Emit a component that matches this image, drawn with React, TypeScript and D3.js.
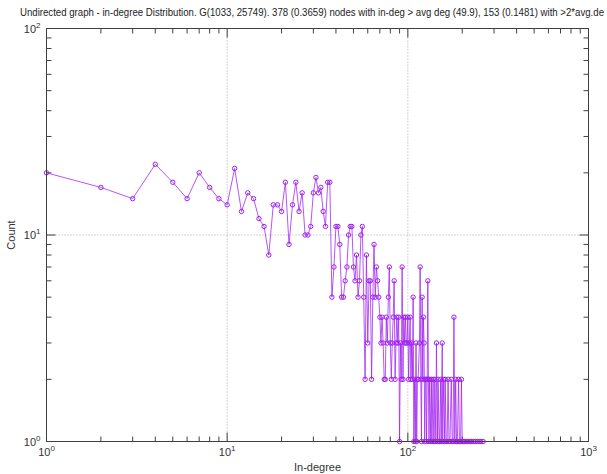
import React from "react";
import * as d3 from "d3";

const title =
  "Undirected graph - in-degree Distribution. G(1033, 25749). 378 (0.3659) nodes with in-deg > avg deg (49.9), 153 (0.1481) with >2*avg.de";
const xLabel = "In-degree";
const yLabel = "Count";

const xDecades = [0, 1, 2, 3];
const yDecades = [0, 1, 2];
const xGridDecades = [1, 2];
const yGridDecades = [1];

const inDegree = [
  1, 2, 3, 4, 5, 6, 7, 8, 9, 10, 11, 12, 13, 14, 15, 16, 17, 18, 19, 20,
  21, 22, 23, 24, 25, 26, 27, 28, 29, 30, 31, 32, 33, 34, 35, 36, 37,
  38, 39, 40, 41, 42, 43, 44, 45, 46, 47, 48, 49,
  50, 51, 52, 53, 54, 55, 56, 57, 58, 59,
  60, 61, 62, 63, 64, 65, 66, 67, 68, 69,
  70, 71, 72, 73, 74, 75, 76, 77, 78, 79,
  80, 81, 82, 83, 84, 85, 86, 87, 88, 89,
  90, 91, 92, 93, 94, 95, 96, 97, 98, 99,
  100, 101, 102, 103, 104, 105, 106, 107, 108, 109, 110, 111, 112, 113, 114,
  116, 117, 118, 119, 120, 121, 122, 123, 124, 125, 126, 127, 128, 129, 130, 131, 132, 134, 135,
  136, 138, 139, 140, 141, 143, 144, 146, 147, 149, 150, 152, 153, 155, 156, 158, 160, 161, 163,
  165, 167, 169, 171, 174, 176, 178, 180, 182, 184, 186, 188, 191, 193, 196, 198, 200,
  203, 206, 210, 214, 218, 222, 226, 231, 236, 242, 248, 254, 261,
];

const nodeCount = [
  20, 17, 15, 22, 18, 15, 20, 17, 15, 14, 21, 13, 16, 15, 12, 11, 8, 14, 14, 13,
  18, 9, 14, 18, 13, 16, 10, 10, 11, 16, 19, 16, 17, 13, 11, 18, 18,
  5, 7, 11, 11, 9, 5, 5, 6, 7, 10, 11, 11,
  7, 6, 8, 5, 6, 10, 11, 5, 2, 8,
  3, 6, 6, 2, 5, 9, 5, 7, 6, 5,
  4, 3, 4, 3, 2, 2, 4, 3, 5, 7,
  3, 2, 3, 4, 6, 2, 3, 4, 3, 4,
  1, 3, 2, 7, 2, 4, 3, 4, 3, 3,
  4, 2, 3, 4, 2, 3, 2, 5, 1, 2, 1, 3, 1, 2, 2,
  3, 7, 2, 1, 5, 2, 4, 3, 1, 2, 2, 1, 2, 6, 2, 1, 2, 1, 2,
  1, 2, 1, 1, 2, 1, 3, 1, 2, 1, 1, 2, 1, 3, 1, 2, 1, 2, 1,
  1, 2, 1, 1, 2, 1, 1, 4, 1, 2, 1, 1, 2, 1, 1, 2, 1,
  1, 1, 1, 1, 1, 1, 1, 1, 1, 1, 1, 1, 1,
];

const W = 607;
const H = 474;
const left = 46.5;
const right = 588.5;
const top = 28.5;
const bottom = 441.5;

const purple = "#a020f0";
const frameColor = "#404040";
const textColor = "#333333";
const font = "'Liberation Sans', Arial, sans-serif";

export default function App() {
  const x = d3.scaleLog().domain([1, 1000]).range([left, right]);
  const y = d3.scaleLog().domain([1, 100]).range([bottom, top]);

  const pts: [number, number][] = inDegree.map((d, i) => [d, nodeCount[i]]);
  const line = d3
    .line<[number, number]>()
    .x((d) => x(d[0]))
    .y((d) => y(d[1]));

  const xMinor: number[] = [];
  for (let e = 0; e < 3; e++) for (let m = 2; m <= 9; m++) xMinor.push(m * Math.pow(10, e));
  const yMinor: number[] = [];
  for (let e = 0; e < 2; e++) for (let m = 2; m <= 9; m++) yMinor.push(m * Math.pow(10, e));

  const majorLen = 9;
  const minorLen = 5;

  return (
    <svg
      width={W}
      height={H}
      style={{ position: "absolute", left: 0, top: 0, background: "#fff" }}
      fontFamily={font}
    >
      <rect x={0} y={0} width={W} height={H} fill="#fff" />
      {/* grid */}
      {xGridDecades.map((e) => (
        <line
          key={"gx" + e}
          x1={x(Math.pow(10, e))}
          x2={x(Math.pow(10, e))}
          y1={top}
          y2={bottom}
          stroke="#a8a8a8"
          strokeWidth={1}
          strokeDasharray="1,2"
        />
      ))}
      {yGridDecades.map((e) => (
        <line
          key={"gy" + e}
          x1={left}
          x2={right}
          y1={y(Math.pow(10, e))}
          y2={y(Math.pow(10, e))}
          stroke="#a8a8a8"
          strokeWidth={1}
          strokeDasharray="1,2"
        />
      ))}
      {/* ticks */}
      <g stroke={frameColor} strokeWidth={1}>
        {xDecades.map((e) => {
          const px = x(Math.pow(10, e));
          return (
            <g key={"xt" + e}>
              <line x1={px} x2={px} y1={bottom} y2={bottom - majorLen} />
              <line x1={px} x2={px} y1={top} y2={top + majorLen} />
            </g>
          );
        })}
        {xMinor.map((v) => {
          const px = x(v);
          return (
            <g key={"xm" + v}>
              <line x1={px} x2={px} y1={bottom} y2={bottom - minorLen} />
              <line x1={px} x2={px} y1={top} y2={top + minorLen} />
            </g>
          );
        })}
        {yDecades.map((e) => {
          const py = y(Math.pow(10, e));
          return (
            <g key={"yt" + e}>
              <line x1={left} x2={left + majorLen} y1={py} y2={py} />
              <line x1={right} x2={right - majorLen} y1={py} y2={py} />
            </g>
          );
        })}
        {yMinor.map((v) => {
          const py = y(v);
          return (
            <g key={"ym" + v}>
              <line x1={left} x2={left + minorLen} y1={py} y2={py} />
              <line x1={right} x2={right - minorLen} y1={py} y2={py} />
            </g>
          );
        })}
      </g>
      {/* data */}
      <path d={line(pts) || ""} fill="none" stroke={purple} strokeWidth={0.9} strokeOpacity={0.85} />
      {pts.map((p, i) => (
        <circle
          key={"c" + i}
          cx={x(p[0])}
          cy={y(p[1])}
          r={2.2}
          fill="none"
          stroke={purple}
          strokeWidth={1}
        />
      ))}
      {/* frame */}
      <rect
        x={left}
        y={top}
        width={right - left}
        height={bottom - top}
        fill="none"
        stroke={frameColor}
        strokeWidth={1}
      />
      {/* tick labels */}
      {xDecades.map((e) => (
        <text
          key={"xl" + e}
          x={x(Math.pow(10, e))}
          y={bottom + 14}
          fontSize={11}
          fill={textColor}
          textAnchor="middle"
        >
          10
          <tspan dy={-5} fontSize={8}>
            {e}
          </tspan>
        </text>
      ))}
      {yDecades.map((e) => (
        <text
          key={"yl" + e}
          x={left - 6}
          y={y(Math.pow(10, e)) + 4}
          fontSize={11}
          fill={textColor}
          textAnchor="end"
        >
          10
          <tspan dy={-5} fontSize={8}>
            {e}
          </tspan>
        </text>
      ))}
      {/* axis labels */}
      <text
        x={(left + right) / 2}
        y={471}
        fontSize={11}
        fill={textColor}
        textAnchor="middle"
      >
        {xLabel}
      </text>
      <text
        transform={`translate(15, ${(top + bottom) / 2}) rotate(-90)`}
        fontSize={11}
        fill={textColor}
        textAnchor="middle"
      >
        {yLabel}
      </text>
      {/* title */}
      <text
        x={20}
        y={16}
        fontSize={10.5}
        fill="#222"
        textLength={584}
        lengthAdjust="spacingAndGlyphs"
      >
        {title}
      </text>
    </svg>
  );
}
